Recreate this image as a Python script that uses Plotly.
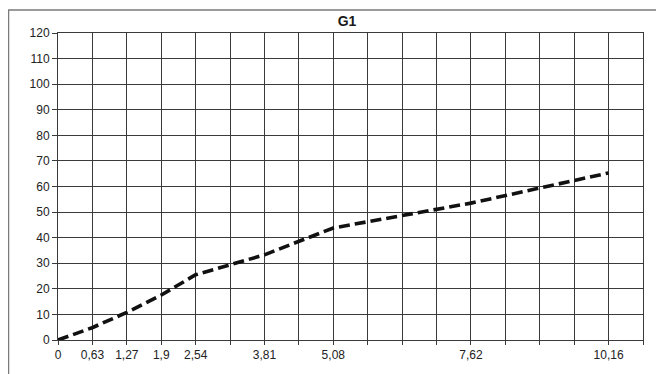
import plotly.graph_objects as go

# Sieve sizes (x) and passing values (y)
sieve_mm = [0, 0.63, 1.27, 1.9, 2.54, 3.81, 5.08, 7.62, 10.16]
passing = [0, 4.8, 10.8, 17.5, 25.5, 33.3, 43.8, 53.5, 65.3]
x_labels = ["0", "0,63", "1,27", "1,9", "2,54", "3,81", "5,08", "7,62", "10,16"]
y_ticks = list(range(0, 121, 10))

# grid every 0.635 mm; label only the grid steps that carry a sieve size
step = 0.635
grid_x = [round(k * step, 4) for k in range(18)]
grid_text = []
for g in grid_x:
    lab = ""
    for v, t in zip(sieve_mm, x_labels):
        if abs(v - g) < 0.01:
            lab = t
    grid_text.append(lab)

# the page has an 8px body margin, so the figure is 8px smaller
OFF = 8
W, H = 664 - OFF, 374 - OFF
L, R, T, B = 58 - OFF, 21, 33 - OFF, 34
pw, ph = W - L - R, H - T - B

fig = go.Figure()

fig.add_trace(go.Scatter(
    x=sieve_mm,
    y=passing,
    mode="lines",
    line=dict(color="#111111", width=3.6, dash="11px,5px"),
    showlegend=False,
    cliponaxis=False,
))

grid = "#3a3a3a"

# outer chart border (top/left visible, right/bottom run off the picture)
fig.add_shape(
    type="rect", xref="paper", yref="paper",
    x0=(0.5 - L) / pw, x1=(W + 5 - L) / pw,
    y0=-(B + 5) / ph, y1=(H - B - 2) / ph,
    line=dict(color="#7a7a7a", width=1.5), layer="below",
)

fig.update_layout(
    width=W, height=H,
    margin=dict(l=L, r=R, t=T, b=B),
    paper_bgcolor="white",
    plot_bgcolor="white",
    font=dict(family="Arial, Liberation Sans, sans-serif", size=12, color="#222222"),
    title=dict(text="<b>G1</b>", x=(347 - OFF) / W, xanchor="center",
               y=1 - (21 - OFF) / H, yanchor="middle",
               font=dict(size=14, color="#1a1a1a")),
    xaxis=dict(
        range=[0, step * 17],
        tickvals=grid_x,
        ticktext=grid_text,
        showgrid=True, gridcolor=grid, gridwidth=1,
        ticks="outside", ticklen=4, tickcolor=grid,
        showline=True, linecolor=grid, linewidth=1, mirror=True,
        zeroline=False,
        fixedrange=True,
    ),
    yaxis=dict(
        range=[0, 120],
        tickvals=y_ticks,
        showgrid=True, gridcolor=grid, gridwidth=1,
        ticks="outside", ticklen=5, tickcolor=grid,
        showline=True, linecolor=grid, linewidth=1, mirror=True,
        zeroline=False,
        fixedrange=True,
    ),
)

fig.write_html("out.html")
